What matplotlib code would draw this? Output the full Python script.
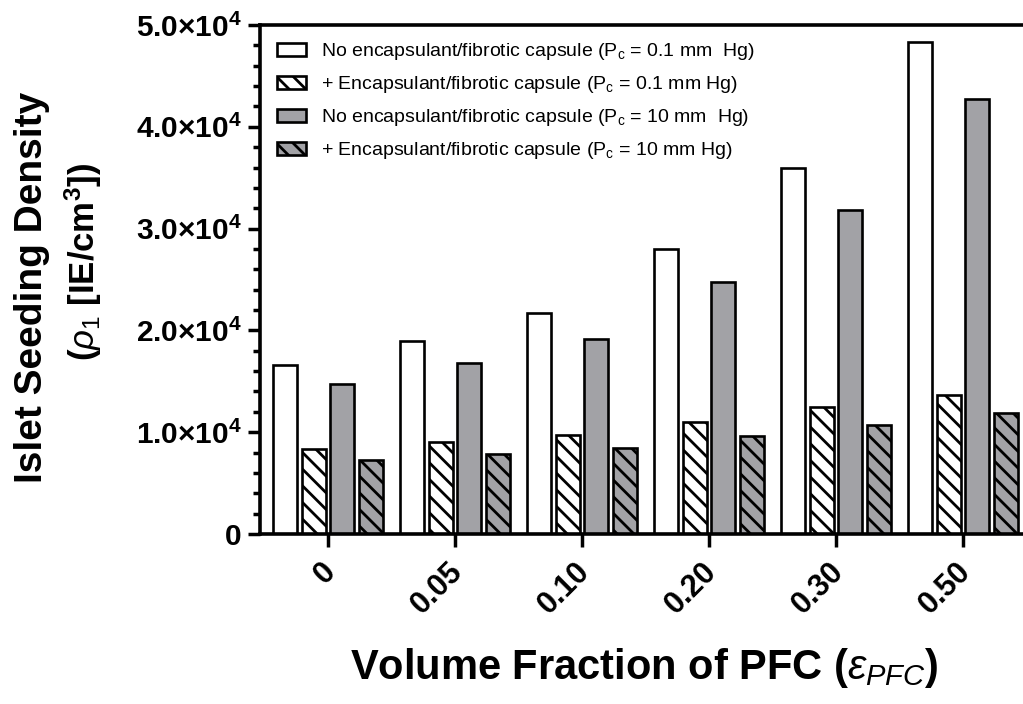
import numpy as np
import matplotlib
matplotlib.use("Agg")
import matplotlib.pyplot as plt
from matplotlib.ticker import MultipleLocator
from matplotlib.transforms import ScaledTranslation

plt.rcParams['font.family'] = ['Liberation Sans', 'DejaVu Sans']
plt.rcParams['mathtext.fontset'] = 'custom'
plt.rcParams['mathtext.rm'] = 'Liberation Sans'
plt.rcParams['mathtext.it'] = 'Liberation Sans:italic'
plt.rcParams['mathtext.bf'] = 'Liberation Sans:bold'
plt.rcParams['hatch.linewidth'] = 2.0

categories = ['0', '0.05', '0.10', '0.20', '0.30', '0.50']
no_encap_01 = [16600, 19000, 21700, 28000, 36000, 48300]
encap_01 = [8350, 9080, 9770, 11020, 12450, 13700]
no_encap_10 = [14700, 16800, 19200, 24800, 31850, 42700]
encap_10 = [7300, 7880, 8480, 9580, 10700, 11900]
series_labels = [
    'No encapsulant/fibrotic capsule (P$_\\mathregular{c}$ = 0.1 mm  Hg)',
    '+ Encapsulant/fibrotic capsule (P$_\\mathregular{c}$ = 0.1 mm Hg)',
    'No encapsulant/fibrotic capsule (P$_\\mathregular{c}$ = 10 mm  Hg)',
    '+ Encapsulant/fibrotic capsule (P$_\\mathregular{c}$ = 10 mm Hg)',
]
yticks = [0, 10000, 20000, 30000, 40000, 50000]
ytick_labels = ['0',
                '1.0$\\mathregular{\\times}$10$^{\\mathbf{4}}$',
                '2.0$\\mathregular{\\times}$10$^{\\mathbf{4}}$',
                '3.0$\\mathregular{\\times}$10$^{\\mathbf{4}}$',
                '4.0$\\mathregular{\\times}$10$^{\\mathbf{4}}$',
                '5.0$\\mathregular{\\times}$10$^{\\mathbf{4}}$']

gray = '#a2a2a6'
fig = plt.figure(figsize=(10.23, 7.04), dpi=100)
ax = fig.add_axes([260/1023, 1 - 534/704, 1 - 260/1023, (534 - 25)/704])

x = np.arange(len(categories))
pitch = 0.226
width = 0.19
series = [no_encap_01, encap_01, no_encap_10, encap_10]
faces = ['white', 'white', gray, gray]
hatches = [None, '\\\\', None, '\\\\']
for i, (vals, fc, h, lab) in enumerate(zip(series, faces, hatches, series_labels)):
    ax.bar(x + (i - 1.5) * pitch, vals, width, facecolor=fc, edgecolor='black',
           linewidth=1.9, hatch=h, label=lab)

ax.set_xlim(-0.535, 5.472)
ax.set_ylim(0, 50000)
ax.set_yticks(yticks)
ax.set_yticklabels(ytick_labels, fontsize=21.5, fontweight='bold')
ax.yaxis.set_minor_locator(MultipleLocator(2000))
ax.set_xticks(x)
ax.set_xticklabels(categories, fontsize=22, fontweight='bold', rotation=45,
                   ha='right', va='top', rotation_mode='anchor')
ax.tick_params(axis='both', which='major', direction='out', length=9, width=2.5)
ax.tick_params(axis='y', which='major', pad=4)
ax.tick_params(axis='y', which='minor', direction='out', length=5, width=2.5)
ax.tick_params(axis='x', which='major', pad=7)
for s in ['left', 'bottom', 'top']:
    ax.spines[s].set_linewidth(2.6)
ax.spines['right'].set_visible(False)

offset = ScaledTranslation(-0.07, 0, fig.dpi_scale_trans)
for lbl in ax.get_xticklabels():
    lbl.set_transform(lbl.get_transform() + offset)

leg = ax.legend(loc='upper left', bbox_to_anchor=(0.005, 0.995), frameon=False,
                fontsize=14, handlelength=1.45, handleheight=0.65,
                handletextpad=0.8, labelspacing=0.62, borderaxespad=0.3)

fig.text(0.031, 0.592, 'Islet Seeding Density', rotation=90, ha='center', va='center',
         fontsize=28, fontweight='bold')
fig.text(0.081, 0.628, '($\\rho_{1}$ [IE/cm$^{\\mathbf{3}}$])', rotation=90, ha='center',
         va='center', fontsize=25, fontweight='bold')
fig.text(0.630, 0.051, 'Volume Fraction of PFC ($\\varepsilon_{PFC}$)', ha='center',
         va='center', fontsize=30, fontweight='bold')

fig.savefig('out.png', dpi=100)
